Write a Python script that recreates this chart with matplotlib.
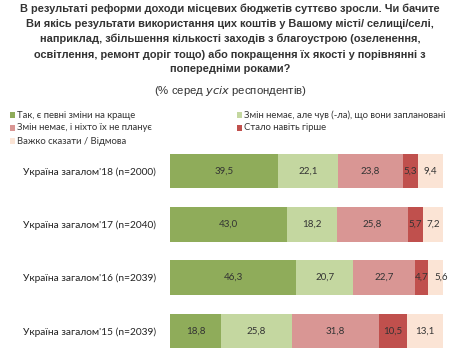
import matplotlib.pyplot as plt
from matplotlib.patches import Rectangle

# data
groups = ["Україна загалом'18 (n=2000)", "Україна загалом'17 (n=2040)",
          "Україна загалом'16 (n=2039)", "Україна загалом'15 (n=2039)"]
answers = ["Так, є певні зміни на краще",
           "Змін немає, але чув (-ла), що вони заплановані",
           "Змін немає, і ніхто їх не планує",
           "Стало навіть гірше",
           "Важко сказати / Відмова"]
better = [39.5, 43.0, 46.3, 18.8]
planned = [22.1, 18.2, 20.7, 25.8]
no_plans = [23.8, 25.8, 22.7, 31.8]
worse = [5.3, 5.7, 4.7, 10.5]
dont_know = [9.4, 7.2, 5.6, 13.1]
series = [better, planned, no_plans, worse, dont_know]
colors = ['#8fac5a', '#c4d7a0', '#d99694', '#c0504d', '#fbe4d5']

W, H = 460, 356
fig = plt.figure(figsize=(W / 100, H / 100), dpi=100)
fig.patch.set_facecolor('white')

title_font = 'Liberation Sans'
body_font = 'Lato'

title = ("В результаті реформи доходи місцевих бюджетів суттєво зросли. Чи бачите\n"
         "Ви якісь результати використання цих коштів у Вашому місті/ селищі/селі,\n"
         "наприклад, збільшення кількості заходів з благоустрою (озеленення,\n"
         "освітлення, ремонт доріг тощо) або покращення їх якості у порівнянні з\n"
         "попередніми роками?")
fig.text(0.5, 1 - 4 / H, title, ha='center', va='top', fontsize=7.9,
         fontweight='bold', family=title_font, color='#333333', linespacing=1.57)
fig.text(0.5, 1 - 90.5 / H, "(% серед $\\it{усіх}$ респондентів)", ha='center', va='center',
         fontsize=8.2, family=title_font, color='#333333')

# legend, drawn by hand in two columns
leg_pos = [(10, 115), (237, 115), (10, 128), (237, 128), (10, 141)]
for (lx, ly), lab, c in zip(leg_pos, answers, colors):
    fig.patches.append(Rectangle((lx / W, 1 - (ly + 3) / H), 5 / W, 6 / H,
                                 transform=fig.transFigure, facecolor=c,
                                 edgecolor='none'))
    fig.text((lx + 7) / W, 1 - ly / H, lab, ha='left', va='center',
             fontsize=6.85, family=body_font, color='#333333')

ax = fig.add_axes([170 / W, 0, 273 / W, (356 - 144.3) / H])
left = [0.0] * len(groups)
for k, (vals, c) in enumerate(zip(series, colors)):
    ax.barh(range(len(groups)), vals, left=left, height=0.65, color=c,
            edgecolor='none')
    for i, v in enumerate(vals):
        x = left[i] + v / 2
        if k == len(series) - 1 and v < 6:
            x += 2.2   # narrow last segment, label sits a bit to the right
        ax.text(x, i, f"{v:.1f}".replace('.', ','), ha='center',
                va='center', fontsize=7, family=body_font, color='#333333')
    left = [l + v for l, v in zip(left, vals)]

ax.set_xlim(0, 100)
ax.set_ylim(3.468, -0.5)
ax.set_yticks(range(len(groups)))
ax.set_yticklabels(groups, fontsize=7.3, family=body_font, color='#222222')
ax.tick_params(axis='y', length=0, pad=10)
ax.set_xticks([])
for s in ax.spines.values():
    s.set_visible(False)

fig.savefig('out.png', dpi=100, facecolor='white')
